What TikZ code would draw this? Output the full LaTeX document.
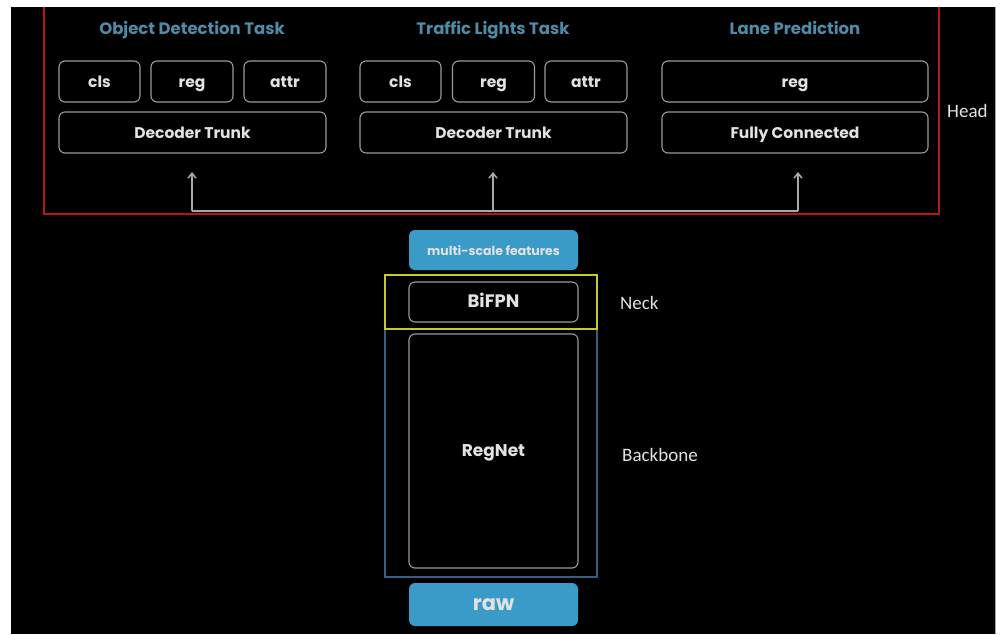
\documentclass[tikz,border=0pt]{standalone}
\usepackage{fontspec}
\setmainfont{Poppins}
\newfontfamily\labelfont{Carlito}
\usetikzlibrary{arrows.meta}
\definecolor{titleblue}{HTML}{4F8AA6}
\definecolor{boxgray}{HTML}{9A9A9A}
\definecolor{textgray}{HTML}{E2E2E2}
\definecolor{featblue}{HTML}{3A9AC8}
\definecolor{headred}{HTML}{B3171C}
\definecolor{neckyellow}{HTML}{C9C92E}
\definecolor{bonesteel}{HTML}{3A5D80}
\tikzset{
  darkbox/.style={draw=boxgray, line width=1.1pt, rounded corners=6pt, fill=black,
    text=textgray, inner sep=0pt, text height=1.25em, text depth=0.25ex,
    font=\bfseries\fontsize{15.5}{17}\selectfont},
  bluebox/.style={fill=featblue, rounded corners=6pt, inner sep=0pt, text=textgray,
    text height=1.25em, text depth=0.25ex},
  tasktitle/.style={text=titleblue, font=\bfseries\fontsize{16.5}{18}\selectfont, inner sep=0pt,
    text height=1.25em, text depth=0.25ex},
  sidelabel/.style={text=textgray, font=\labelfont\fontsize{19}{22}\selectfont, inner sep=0pt, anchor=west},
  feedline/.style={draw=boxgray!85, line width=1.6pt},
  feedarrow/.style={feedline, -{Straight Barb[length=5pt,width=8pt,line width=1.5pt]}}
}
\begin{document}
\begin{tikzpicture}[x=1pt,y=-1pt]
% page and dark slide area
\fill[white] (0,0) rectangle (1008,634);
\useasboundingbox (0,0) rectangle (1008,634);
\fill[black] (11,7) rectangle (995,634);
\draw[gray!70, line width=1pt] (995.5,7) -- (995.5,634);

% head region outline
\draw[headred, line width=1.3pt] (44,7) -- (44,214) -- (939,214) -- (939,7);

% task titles
\node[tasktitle] (t1) at (192,29) {Object Detection Task};
\node[tasktitle] (t2) at (493,29) {Traffic Lights Task};
\node[tasktitle] (t3) at (795,29) {Lane Prediction};

% object detection head
\node[darkbox, minimum width=81pt, minimum height=41pt] (od-cls)  at (99.5,81.5) {cls};
\node[darkbox, minimum width=82pt, minimum height=41pt] (od-reg)  at (192,81.5) {reg};
\node[darkbox, minimum width=82pt, minimum height=41pt] (od-attr) at (285,81.5) {attr};
\node[darkbox, minimum width=267pt, minimum height=41pt] (od-dt) at (192.5,132.5) {Decoder Trunk};

% traffic lights head
\node[darkbox, minimum width=81pt, minimum height=41pt] (tl-cls)  at (400.5,81.5) {cls};
\node[darkbox, minimum width=82pt, minimum height=41pt] (tl-reg)  at (493.5,81.5) {reg};
\node[darkbox, minimum width=82pt, minimum height=41pt] (tl-attr) at (586,81.5) {attr};
\node[darkbox, minimum width=267pt, minimum height=41pt] (tl-dt) at (493.5,132.5) {Decoder Trunk};

% lane prediction head
\node[darkbox, minimum width=266pt, minimum height=41pt] (lp-reg) at (795,81.5) {reg};
\node[darkbox, minimum width=266pt, minimum height=41pt] (lp-fc)  at (795,132.5) {Fully Connected};

% feature distribution to the heads
\coordinate (b1) at (192,211);
\coordinate (b2) at (493,211);
\coordinate (b3) at (798,211);
\coordinate (a1) at (192,172);
\coordinate (a2) at (493,172);
\coordinate (a3) at (798,172);
\draw[feedline] (b1) -- (b3);
\draw[feedarrow] (b1) -- (a1);
\draw[feedarrow] (b2) -- (a2);
\draw[feedarrow] (b3) -- (a3);

% neck and backbone outlines
\draw[bonesteel, line width=1.1pt] (385,329) rectangle (597,577);
\draw[neckyellow, line width=1.1pt] (385,275) rectangle (597,329);

% central stack
\node[bluebox, minimum width=169pt, minimum height=40pt, font=\bfseries\fontsize{12.5}{14}\selectfont] (msf) at (493.5,250) {multi-scale features};
\node[darkbox, minimum width=169pt, minimum height=40pt, font=\bfseries\fontsize{18}{20}\selectfont] (bifpn) at (493.5,302) {BiFPN};
\node[darkbox, minimum width=169pt, minimum height=234pt, font=\bfseries\fontsize{17}{19}\selectfont] (regnet) at (493.5,451) {RegNet};
\node[bluebox, minimum width=169pt, minimum height=43pt, font=\bfseries\fontsize{21}{24}\selectfont] (raw) at (493.5,604.5) {raw};

% section labels
\node[sidelabel] (neck) at (620,303) {Neck};
\node[sidelabel] (bone) at (622,455) {Backbone};
\node[sidelabel] (head) at (947,111) {Head};
\end{tikzpicture}
\end{document}
